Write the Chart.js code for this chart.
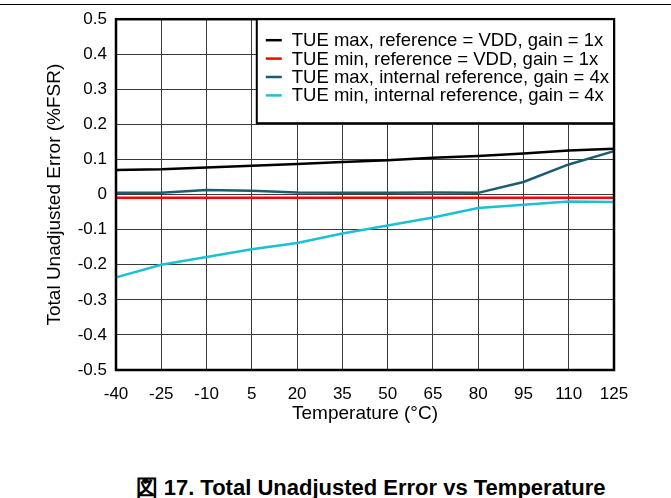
<!DOCTYPE html>
<html>
<head>
<meta charset="utf-8">
<script src="https://cdn.jsdelivr.net/npm/chart.js@4"></script>
<style>
  body { margin: 0; background: #fff; width: 671px; height: 498px; position: relative; overflow: hidden; }
  .rule { position: absolute; left: 0; top: 4px; width: 671px; height: 1px; background: #000; }
  .wrap { position: absolute; left: 0; top: 0; width: 671px; height: 440px; }
  .caption { position: absolute; left: 0; width: 671px; top: 473px; text-align: center;
    font: bold 22px "Liberation Sans", Arial, sans-serif; color: #000; padding-left: 70px; box-sizing: border-box; white-space: nowrap; }
</style>
</head>
<body>
<div class="rule"></div>
<div class="wrap"><canvas id="tueChart" width="671" height="440"></canvas></div>
<div class="caption">図 17. Total Unadjusted Error vs Temperature</div>
<script>
// temperatures (°C)
const temps = ['-40', '-25', '-10', '5', '20', '35', '50', '65', '80', '95', '110', '125'];

// TUE in %FSR
const tueMaxVdd = [0.070, 0.072, 0.077, 0.082, 0.087, 0.093, 0.098, 0.105, 0.110, 0.117, 0.126, 0.131];
const tueMinVdd = [-0.009, -0.009, -0.009, -0.009, -0.009, -0.009, -0.009, -0.009, -0.009, -0.009, -0.009, -0.009];
const tueMaxInt = [0.005, 0.005, 0.013, 0.011, 0.006, 0.005, 0.005, 0.006, 0.005, 0.036, 0.086, 0.124];
const tueMinInt = [-0.236, -0.200, -0.178, -0.156, -0.138, -0.111, -0.088, -0.065, -0.038, -0.029, -0.020, -0.021];

const seriesLabels = [
  'TUE max, reference = VDD, gain = 1x',
  'TUE min, reference = VDD, gain = 1x',
  'TUE max, internal reference, gain = 4x',
  'TUE min, internal reference, gain = 4x'
];
const seriesColors = ['#000000', '#ff0000', '#1b5d6e', '#1cc0d3'];

const FONT = '"Liberation Sans", Arial, sans-serif';

// legend box inside the plot, top right
const boxLegend = {
  id: 'boxLegend',
  afterDraw(chart) {
    const ctx = chart.ctx;
    const area = chart.chartArea;
    ctx.save();
    ctx.font = '18.5px ' + FONT;
    let maxW = 0;
    chart.data.datasets.forEach(ds => { maxW = Math.max(maxW, ctx.measureText(ds.label).width); });
    const w = maxW + 40;
    const h = 104;
    const x = area.right - w;
    const y = area.top;
    ctx.fillStyle = '#fff';
    ctx.fillRect(x, y, w, h);
    ctx.strokeStyle = '#000';
    ctx.lineWidth = 2;
    ctx.strokeRect(x, y, w, h);
    ctx.textBaseline = 'middle';
    ctx.textAlign = 'left';
    chart.data.datasets.forEach((ds, i) => {
      const cy = y + 21 + i * 18.4;
      ctx.strokeStyle = ds.borderColor;
      ctx.lineWidth = 2.5;
      ctx.beginPath();
      ctx.moveTo(x + 9, cy);
      ctx.lineTo(x + 25, cy);
      ctx.stroke();
      ctx.fillStyle = '#000';
      ctx.fillText(ds.label, x + 35, cy + 1);
    });
    ctx.restore();
  }
};

// heavy frame round the plot area
const plotFrame = {
  id: 'plotFrame',
  afterDatasetsDraw(chart) {
    const {ctx, chartArea: a} = chart;
    ctx.save();
    ctx.strokeStyle = '#000';
    ctx.lineWidth = 2.5;
    ctx.strokeRect(a.left, a.top, a.right - a.left, a.bottom - a.top);
    ctx.restore();
  }
};

new Chart(document.getElementById('tueChart'), {
  type: 'line',
  data: {
    labels: temps,
    datasets: [tueMaxVdd, tueMinVdd, tueMaxInt, tueMinInt].map((vals, i) => ({
      label: seriesLabels[i],
      data: vals,
      borderColor: seriesColors[i],
      backgroundColor: seriesColors[i],
      borderWidth: 2.5,
      pointRadius: 0,
      tension: 0,
      fill: false
    }))
  },
  options: {
    responsive: false,
    animation: false,
    layout: { padding: { top: 18, right: 57, left: 0, bottom: 0 } },
    plugins: {
      legend: { display: false },
      tooltip: { enabled: false }
    },
    scales: {
      x: {
        type: 'category',
        offset: false,
        grid: { color: '#3a3a3a', lineWidth: 1, drawTicks: false },
        border: { display: false },
        ticks: { color: '#000', font: { family: FONT, size: 17 }, padding: 14, maxRotation: 0, autoSkip: false },
        title: { display: true, text: 'Temperature (°C)', color: '#000', font: { family: FONT, size: 19 }, padding: { top: 0, bottom: 15 } },
        afterFit(scale) { scale.height = 70; }
      },
      y: {
        min: -0.5,
        max: 0.5,
        grid: { color: '#3a3a3a', lineWidth: 1, drawTicks: false },
        border: { display: false },
        ticks: {
          stepSize: 0.1,
          color: '#000',
          font: { family: FONT, size: 17 },
          padding: 9,
          callback: v => String(Math.round(v * 10) / 10)
        },
        title: { display: true, text: 'Total Unadjusted Error (%FSR)', color: '#000', font: { family: FONT, size: 19 }, padding: { top: 43, bottom: 0 } },
        afterFit(scale) { scale.width = 116; }
      }
    }
  },
  plugins: [plotFrame, boxLegend]
});
</script>
</body>
</html>
